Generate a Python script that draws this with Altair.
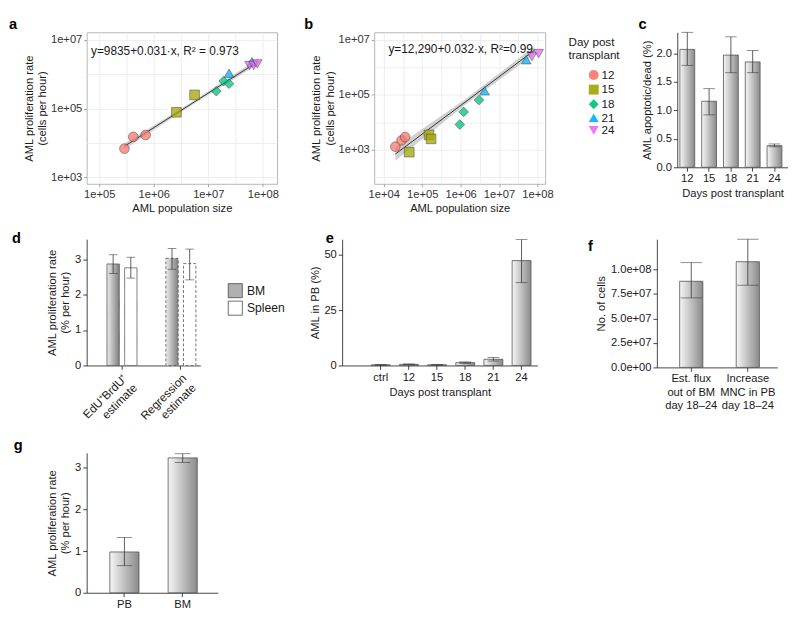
import altair as alt
import pandas as pd

FONT = "Liberation Sans"
INK = "#1a1a1a"

# ---------------- panels a / b : scatter data ----------------
day_levels = ["12", "15", "18", "21", "24"]
day_colors = ["#F8766D", "#A3A500", "#00BF7D", "#00B0F6", "#E76BF3"]
day_shapes = ["circle", "square", "diamond", "triangle-up", "triangle-down"]

a_day = ["12", "12", "12", "15", "15", "18", "18", "18", "21", "21", "24", "24", "24"]
a_size = [2.9e5, 4.2e5, 7.1e5, 2.6e6, 5.6e6, 1.4e7, 1.9e7, 2.4e7, 2.4e7, 6.3e7, 5.7e7, 6.8e7, 7.9e7]
a_rate = [6.8e3, 1.5e4, 1.7e4, 7.8e4, 2.5e5, 3.2e5, 6.3e5, 5.3e5, 1.07e6, 2.3e6, 1.8e6, 1.8e6, 2.0e6]
a_fit_x = [2.9e5, 4.8e6, 8.0e7]
a_fit_y = [8.0e3, 1.35e5, 2.3e6]
a_fit_lo = [6.6e3, 1.2e5, 1.9e6]
a_fit_hi = [9.7e3, 1.5e5, 2.8e6]
a_eq = ["y=9835+0.031·x, R² = 0.973"]
a_eq_x = [1.6e6]
a_eq_y = [4.6e6]
a_x_major = [1e5, 1e6, 1e7, 1e8]
a_x_minor = [10 ** 5.5, 10 ** 6.5, 10 ** 7.5]
a_y_major = [1e3, 1e5, 1e7]
a_y_minor = [1e4, 1e6]

b_day = ["12", "12", "12", "15", "15", "15", "18", "18", "18", "21", "21", "24", "24"]
b_size = [2.0e4, 2.9e4, 3.6e4, 4.6e4, 1.5e5, 1.7e5, 9.5e5, 1.2e6, 3.0e6, 4.2e6, 5.1e7, 7.2e7, 1.07e8]
b_rate = [1.3e3, 2.2e3, 2.9e3, 8.2e2, 3.5e3, 2.5e3, 8.3e3, 2.4e4, 6.5e4, 1.4e5, 1.9e6, 2.5e6, 3.2e6]
b_fit_x = [2.0e4, 1.3e6, 8.3e7]
b_fit_y = [7.0e2, 5.4e4, 4.2e6]
b_fit_lo = [4.0e2, 4.3e4, 3.0e6]
b_fit_hi = [1.2e3, 6.8e4, 5.9e6]
b_eq = ["y=12,290+0.032·x, R²=0.99"]
b_eq_x = [1.0e6]
b_eq_y = [4.8e6]
b_x_major = [1e4, 1e5, 1e6, 1e7, 1e8]
b_x_minor = [10 ** 4.5, 10 ** 5.5, 10 ** 6.5, 10 ** 7.5]
b_y_major = [1e3, 1e5, 1e7]
b_y_minor = [1e2, 1e4, 1e6]

# ---------------- panel c ----------------
c_days = ["12", "15", "18", "21", "24"]
c_mean = [2.07, 1.16, 1.97, 1.85, 0.38]
c_lo = [1.79, 0.92, 1.66, 1.66, 0.36]
c_hi = [2.37, 1.38, 2.29, 2.05, 0.41]

# ---------------- panel d ----------------
d_est = ["EdU⁺BrdU⁺\nestimate", "Regression\nestimate"]
d_tissues = ["BM", "Spleen"]
d_bar_est = [d_est[0], d_est[0], d_est[1], d_est[1]]
d_bar_tissue = ["BM", "Spleen", "BM", "Spleen"]
d_mean = [2.87, 2.76, 3.03, 2.88]
d_lo = [2.60, 2.47, 2.72, 2.42]
d_hi = [3.13, 3.06, 3.31, 3.29]

# ---------------- panel e ----------------
e_days = ["ctrl", "12", "15", "18", "21", "24"]
e_mean = [0.3, 0.5, 0.3, 1.3, 2.8, 47.5]
e_lo = [0.1, 0.3, 0.2, 1.0, 2.0, 37.5]
e_hi = [0.5, 0.7, 0.4, 1.6, 3.6, 57.0]

# ---------------- panel f ----------------
f_cats = ["Est. flux\nout of BM\nday 18–24", "Increase\nMNC in PB\nday 18–24"]
f_mean = [8.8e7, 1.08e8]
f_lo = [7.1e7, 8.4e7]
f_hi = [1.07e8, 1.31e8]

# ---------------- panel g ----------------
g_cats = ["PB", "BM"]
g_mean = [0.98, 3.24]
g_lo = [0.65, 3.13]
g_hi = [1.33, 3.34]


def gradient(light="#f6f6f6", dark="#8a8a8a"):
    return alt.LinearGradient(
        gradient="linear",
        stops=[alt.GradientStop(color=light, offset=0), alt.GradientStop(color=dark, offset=1)],
        x1=0, x2=1, y1=0, y2=0,
    )


GRAD = gradient()


def letter_layer(letter, dx, dy):
    return alt.Chart(pd.DataFrame({"panel": [letter]})).mark_text(
        align="left", baseline="alphabetic", fontSize=15, fontWeight="bold",
        font=FONT, color="black",
    ).encode(x=alt.value(dx), y=alt.value(dy), text="panel:N")


def log_axis(title, major, minor):
    major_js = "[" + ",".join(repr(float(v)) for v in major) + "]"
    is_major = f"indexof({major_js}, datum.value) >= 0"
    return alt.Axis(
        title=title, values=sorted(major + minor),
        labelExpr=f"{is_major} ? '1e+0' + format(log(datum.value) / LN10, '.0f') : ''",
        tickOpacity={"condition": {"test": is_major, "value": 1}, "value": 0},
        grid=True, gridColor="#e9e9e9", gridWidth=0.8, domain=False,
        tickColor="#8c8c8c", tickSize=3, tickWidth=0.8, labelPadding=2,
        labelColor="#333333", titlePadding=3,
    )


def scatter_panel(day, size, rate, fit_x, fit_y, fit_lo, fit_hi, eq, eq_x, eq_y,
                  xdom, ydom, xmaj, xmin, ymaj, ymin, width, height, letter, ldx, legend):
    pts = pd.DataFrame({"size": size, "rate": rate, "day": day})
    fit = pd.DataFrame({"size": fit_x, "rate": fit_y, "lo": fit_lo, "hi": fit_hi})
    note = pd.DataFrame({"size": eq_x, "rate": eq_y, "label": eq})
    xs = alt.Scale(type="log", domain=xdom, nice=False)
    ys = alt.Scale(type="log", domain=ydom, nice=False)
    xax = log_axis("AML population size", xmaj, xmin)
    yax = log_axis(["AML proliferation rate", "(cells per hour)"], ymaj, ymin)

    def X(f):
        return alt.X(f"{f}:Q", scale=xs, axis=xax)

    def Y(f):
        return alt.Y(f"{f}:Q", scale=ys, axis=yax)

    band = alt.Chart(fit).mark_area(color="#9a9a9a", opacity=0.45).encode(
        x=X("size"), y=Y("lo"), y2="hi:Q")
    line = alt.Chart(fit).mark_line(color="#222222", strokeWidth=0.9).encode(
        x=X("size"), y=Y("rate"))
    if legend:
        leg = alt.Legend(
            title=["Day post", "transplant"], orient="none", legendX=200, legendY=5,
            symbolSize=105, symbolStrokeColor="#333333", symbolStrokeWidth=0.7,
            symbolOpacity=0.9, labelFontSize=12, titleFontSize=12,
            titleFontWeight="normal", titlePadding=7, rowPadding=1, labelOffset=2,
            symbolOffset=20, titleLimit=200,
        )
        color = alt.Color("day:N", scale=alt.Scale(domain=day_levels, range=day_colors), legend=leg)
        shape = alt.Shape("day:N", scale=alt.Scale(domain=day_levels, range=day_shapes), legend=leg)
    else:
        color = alt.Color("day:N", scale=alt.Scale(domain=day_levels, range=day_colors), legend=None)
        shape = alt.Shape("day:N", scale=alt.Scale(domain=day_levels, range=day_shapes), legend=None)
    dots = alt.Chart(pts).mark_point(
        filled=True, size=100, fillOpacity=0.75, stroke="#3a3a3a", strokeWidth=0.6, strokeOpacity=0.8
    ).encode(x=X("size"), y=Y("rate"), color=color, shape=shape)
    text = alt.Chart(note).mark_text(fontSize=12.2, color=INK).encode(
        x=X("size"), y=Y("rate"), text="label:N")
    return alt.layer(band, line, dots, text, letter_layer(letter, ldx, -3)).properties(
        width=width, height=height,
        view=alt.ViewBackground(stroke="#b5b5b5", strokeWidth=1),
    )


def bar_panel(cats, means, los, his, *, width, height, ydom, yvals, ytitle, xtitle,
              pad_in, pad_out, align, cap, letter, ldx, ldy,
              yformat=None, ylabel_expr=None, xlabel_expr=None, fill=GRAD):
    df = pd.DataFrame({"cat": cats, "mean": means, "lo": los, "hi": his})
    xkw = dict(title=xtitle, labelAngle=0)
    if xlabel_expr:
        xkw["labelExpr"] = xlabel_expr
    x = alt.X("cat:N", sort=cats,
              scale=alt.Scale(paddingInner=pad_in, paddingOuter=pad_out, align=align),
              axis=alt.Axis(**xkw))
    ykw = dict(title=ytitle, values=yvals)
    if yformat:
        ykw["format"] = yformat
    if ylabel_expr:
        ykw["labelExpr"] = ylabel_expr
    yax = alt.Axis(**ykw)
    ysc = alt.Scale(domain=ydom, nice=False)
    base = alt.Chart(df)
    bars = base.mark_bar(fill=fill, stroke="#505050", strokeWidth=0.8).encode(
        x=x, y=alt.Y("mean:Q", scale=ysc, axis=yax))
    rule = base.mark_rule(color="#333333", strokeWidth=0.8).encode(
        x=x, y=alt.Y("lo:Q", scale=ysc, axis=yax), y2="hi:Q")
    caps = base.transform_fold(["lo", "hi"], as_=["end", "v"]).mark_tick(
        color="#333333", thickness=0.8, size=cap).encode(
        x=x, y=alt.Y("v:Q", scale=ysc, axis=yax))
    return alt.layer(bars, rule, caps, letter_layer(letter, ldx, ldy)).properties(
        width=width, height=height)


# ---------------- build panels ----------------
pa = scatter_panel(a_day, a_size, a_rate, a_fit_x, a_fit_y, a_fit_lo, a_fit_hi,
                   a_eq, a_eq_x, a_eq_y, [10 ** 4.77, 10 ** 8.26], [10 ** 2.81, 10 ** 7.22],
                   a_x_major, a_x_minor, a_y_major, a_y_minor, 196, 156, "a", -80, False)
pb = scatter_panel(b_day, b_size, b_rate, b_fit_x, b_fit_y, b_fit_lo, b_fit_hi,
                   b_eq, b_eq_x, b_eq_y, [10 ** 3.75, 10 ** 8.2], [10 ** 1.76, 10 ** 7.28],
                   b_x_major, b_x_minor, b_y_major, b_y_minor, 176, 156, "b", -72, True)

pc = bar_panel(c_days, c_mean, c_lo, c_hi, width=114, height=139, ydom=[0, 2.37],
               yvals=[0, 0.5, 1, 1.5, 2], yformat=".1f", ytitle="AML apoptotic/dead (%)",
               xtitle="Days post transplant", pad_in=0.32, pad_out=0.2, align=0.3, cap=12,
               letter="c", ldx=-40, ldy=-3)

# panel d
d_df = pd.DataFrame({"est": d_bar_est, "tissue": d_bar_tissue, "mean": d_mean, "lo": d_lo, "hi": d_hi})
dx_enc = alt.X("est:N", sort=d_est,
               scale=alt.Scale(paddingInner=0.49, paddingOuter=0.21, align=0.82),
               axis=alt.Axis(title=None, labelAngle=-45, labelAlign="right", labelBaseline="top",
                             labelExpr="split(datum.label, '\\n')", labelPadding=3, labelFontSize=12))
dxo = alt.XOffset("tissue:N", sort=d_tissues, scale=alt.Scale(paddingInner=0.3))
d_yax = alt.Axis(title=["AML proliferation rate", "(% per hour)"], values=[0, 1, 2, 3])
d_ysc = alt.Scale(domain=[0, 3.57], nice=False)
dash = alt.StrokeDash("est:N", scale=alt.Scale(domain=d_est, range=[[1, 0], [3, 2]]), legend=None)
d_base = alt.Chart(d_df)
d_bm = d_base.transform_filter(alt.datum.tissue == "BM").mark_bar(
    fill=gradient("#ececec", "#7f7f7f"), stroke="#505050", strokeWidth=0.8).encode(
    x=dx_enc, xOffset=dxo, y=alt.Y("mean:Q", scale=d_ysc, axis=d_yax), strokeDash=dash)
d_sp = d_base.transform_filter(alt.datum.tissue == "Spleen").mark_bar(
    fill="white", stroke="#505050", strokeWidth=0.8).encode(
    x=dx_enc, xOffset=dxo, y=alt.Y("mean:Q", scale=d_ysc, axis=d_yax), strokeDash=dash)
d_rule = d_base.mark_rule(color="#333333", strokeWidth=0.8).encode(
    x=dx_enc, xOffset=dxo, y=alt.Y("lo:Q", scale=d_ysc, axis=d_yax), y2="hi:Q")
d_caps = d_base.transform_fold(["lo", "hi"], as_=["end", "v"]).mark_tick(
    color="#333333", thickness=0.8, size=9).encode(
    x=dx_enc, xOffset=dxo, y=alt.Y("v:Q", scale=d_ysc, axis=d_yax))
d_key = d_base.mark_square(opacity=0, size=1).encode(
    x=dx_enc, xOffset=dxo, y=alt.Y("mean:Q", scale=d_ysc, axis=d_yax),
    fill=alt.Fill("tissue:N", scale=alt.Scale(domain=d_tissues, range=["#b0b0b0", "#ffffff"]),
                  legend=alt.Legend(title=None, orient="none", legendX=145, legendY=45,
                                    symbolType="square", symbolSize=210, symbolStrokeColor="#444444",
                                    symbolStrokeWidth=0.8, symbolOpacity=1, labelFontSize=12.5,
                                    rowPadding=0, labelOffset=4)))
pd_ = alt.layer(d_bm, d_sp, d_rule, d_caps, d_key, letter_layer("d", -77, 4)).properties(
    width=117, height=130)

pe = bar_panel(e_days, e_mean, e_lo, e_hi, width=201, height=130, ydom=[0, 57.2],
               yvals=[0, 25, 50], ytitle="AML in PB (%)", xtitle="Days post transplant",
               pad_in=0.33, pad_out=0.63, align=0.82, cap=12, letter="e", ldx=-17, ldy=4)

pf = bar_panel(f_cats, f_mean, f_lo, f_hi, width=124, height=132, ydom=[0, 1.31e8],
               yvals=[0, 2.5e7, 5e7, 7.5e7, 1e8], ytitle="No. of cells", xtitle=None,
               ylabel_expr="datum.value == 0 ? '0.0e+00' : (datum.value >= 1e8 ? format(datum.value / 1e8, '.1f') + 'e+08' : format(datum.value / 1e7, '.1f') + 'e+07')",
               xlabel_expr="split(datum.label, '\\n')",
               pad_in=0.59, pad_out=0.36, align=0.56, cap=22, letter="f", ldx=-71, ldy=12)

pg = bar_panel(g_cats, g_mean, g_lo, g_hi, width=135, height=144, ydom=[0, 3.36],
               yvals=[0, 1, 2, 3], ytitle=["AML proliferation rate", "(% per hour)"], xtitle=None,
               pad_in=0.5, pad_out=0.375, align=0.53, cap=16, letter="g", ldx=-75, ldy=-3)

row1 = alt.hconcat(
    alt.hconcat(pa, pb, spacing=24).resolve_scale(color="independent", shape="independent"),
    pc, spacing=18,
).resolve_scale(color="independent", shape="independent")

row2 = alt.hconcat(
    alt.hconcat(pd_, pe, spacing=25).resolve_scale(fill="independent", strokeDash="independent"),
    pf, spacing=52,
).resolve_scale(fill="independent", strokeDash="independent")

chart = alt.concat(
    alt.concat(row1, row2, columns=1, spacing=17, align="none"),
    pg, columns=1, spacing=7, align="none",
).properties(padding=0).configure(font=FONT).configure_view(stroke=None).configure_axis(
    labelFont=FONT, titleFont=FONT, labelFontSize=11.5, titleFontSize=11.5,
    titleFontWeight="normal", labelColor=INK, titleColor=INK, domainColor="#111111",
    tickColor="#111111", domainWidth=0.8, tickWidth=0.8, tickSize=4, labelPadding=2,
    titlePadding=4, grid=False,
).configure_legend(labelFont=FONT, titleFont=FONT, labelColor=INK, titleColor=INK)

chart.save("out.html", embed_options={"renderer": "svg", "actions": False})
